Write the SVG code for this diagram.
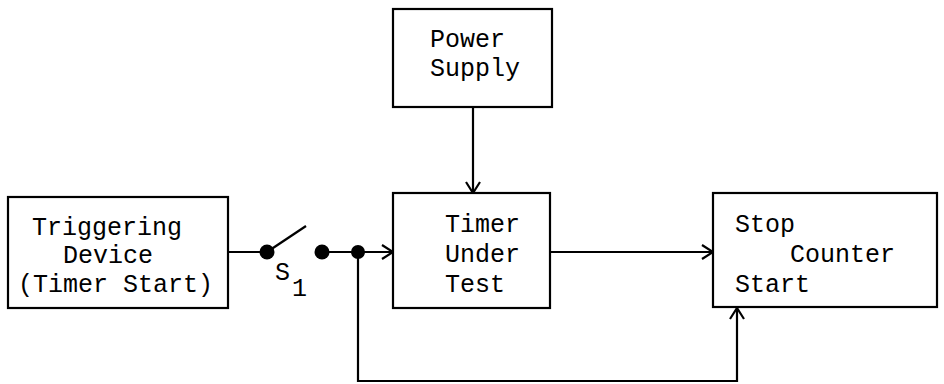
<svg xmlns="http://www.w3.org/2000/svg" width="944" height="384" viewBox="0 0 944 384">
<style>
.box{fill:#fff;stroke:#000;stroke-width:2.2}
.t{font-family:"Liberation Mono","Courier New",monospace;font-size:25px;fill:#000}
.w{fill:none;stroke:#000;stroke-width:2.2}
</style>
<defs>
<marker id="arr" markerWidth="16" markerHeight="18" refX="14" refY="9" orient="auto" markerUnits="userSpaceOnUse">
<path d="M3,2 L14,9 L3,16" fill="none" stroke="#000" stroke-width="2.2"/>
</marker>
</defs>
<rect width="944" height="384" fill="#fff"/>
<g id="connectors">
<line class="w" x1="228" y1="252" x2="267" y2="252"/>
<line class="w" x1="267" y1="252" x2="306" y2="226"/>
<line class="w" x1="322" y1="252" x2="393" y2="252" marker-end="url(#arr)"/>
<line class="w" x1="473" y1="107" x2="473" y2="193" marker-end="url(#arr)"/>
<line class="w" x1="550" y1="252" x2="713" y2="252" marker-end="url(#arr)"/>
<polyline class="w" points="358,252 358,381 737,381 737,308" marker-end="url(#arr)"/>
<circle cx="267" cy="252" r="7.5"/>
<circle cx="322" cy="252" r="7.5"/>
<circle cx="358" cy="252" r="7"/>
<text class="t" x="275" y="280">S</text>
<text class="t" x="292" y="296">1</text>
</g>
<g id="triggering">
<rect class="box" x="8" y="197" width="220" height="111"/>
<text class="t" x="32" y="235">Triggering</text>
<text class="t" x="63" y="263">Device</text>
<text class="t" x="18" y="292">(Timer Start)</text>
</g>
<g id="power">
<rect class="box" x="393" y="9" width="159" height="98"/>
<text class="t" x="430" y="47">Power</text>
<text class="t" x="430" y="76">Supply</text>
</g>
<g id="timer">
<rect class="box" x="393" y="193" width="157" height="115"/>
<text class="t" x="445" y="232">Timer</text>
<text class="t" x="445" y="262">Under</text>
<text class="t" x="445" y="292">Test</text>
</g>
<g id="counter">
<rect class="box" x="713" y="193" width="224" height="114"/>
<text class="t" x="735" y="232">Stop</text>
<text class="t" x="790" y="262">Counter</text>
<text class="t" x="735" y="292">Start</text>
</g>
</svg>
